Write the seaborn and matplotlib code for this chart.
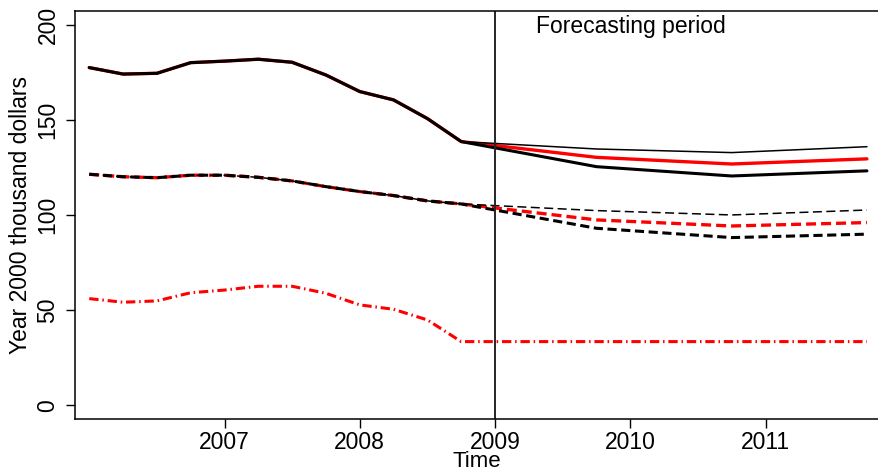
import matplotlib
matplotlib.use("Agg")
import matplotlib.pyplot as plt
import seaborn as sns
import numpy as np

# Quarterly history, 2006Q1 - 2008Q4
t_hist = [2006.0, 2006.25, 2006.5, 2006.75, 2007.0, 2007.25,
          2007.5, 2007.75, 2008.0, 2008.25, 2008.5, 2008.75]
price_hist = [177.6, 174.2, 174.6, 180.2, 181.0, 182.0,
              180.4, 173.7, 165.0, 160.6, 150.8, 138.7]
mid_hist = [121.5, 120.2, 119.7, 121.0, 121.0, 119.9,
            118.0, 115.0, 112.4, 110.3, 107.5, 105.9]
low_hist = [56.1, 54.2, 54.9, 59.2, 60.6, 62.6,
            62.6, 58.9, 52.8, 50.5, 44.9, 33.5]

# Annual forecasts starting from the last observed quarter
t_fc = [2008.75, 2009.75, 2010.75, 2011.75]
price_fc_high = [138.7, 134.8, 132.9, 136.0]
price_fc_base = [138.7, 130.4, 126.9, 129.6]
price_fc_low = [138.7, 125.5, 120.6, 123.3]
mid_fc_high = [105.9, 102.4, 100.1, 102.7]
mid_fc_base = [105.9, 97.5, 94.3, 96.1]
mid_fc_low = [105.9, 93.1, 88.2, 90.0]
low_fc = [33.5, 33.5, 33.5, 33.5]

x_ticks = [2007, 2008, 2009, 2010, 2011]
y_ticks = [0, 50, 100, 150, 200]
forecast_start = 2009

sns.set_theme(style="white")
plt.rcParams["font.family"] = ["Liberation Sans", "DejaVu Sans"]

W, H = 879, 474
fig = plt.figure(figsize=(W / 100, H / 100), dpi=100)
ax_l, ax_r, ax_t, ax_b = 74.7, 879.0, 11.3, 418.5
ax = fig.add_axes([ax_l / W, 1 - ax_b / H, (ax_r - ax_l) / W, (ax_b - ax_t) / H])

t_all = t_hist + t_fc[1:]

def full(hist, fc):
    return hist + fc[1:]

thick = 2.2
thin = 1.1
dash_thick = (0, (3.0, 1.5))
dash_thin = (0, (5.9, 2.9))
dashdot = (0, (3.05, 1.25, 0.5, 1.25))

# Solid: price level scenarios
sns.lineplot(x=t_all, y=full(price_hist, price_fc_base), ax=ax, color="#ff0000",
             linewidth=2.4, errorbar=None)
sns.lineplot(x=t_all, y=full(price_hist, price_fc_low), ax=ax, color="black",
             linewidth=thick, errorbar=None)
sns.lineplot(x=t_all, y=full(price_hist, price_fc_high), ax=ax, color="black",
             linewidth=thin, errorbar=None)

# Dashed: middle series scenarios
sns.lineplot(x=t_all, y=full(mid_hist, mid_fc_base), ax=ax, color="#ff0000",
             linewidth=2.4, linestyle=dash_thick, errorbar=None)
sns.lineplot(x=t_all, y=full(mid_hist, mid_fc_low), ax=ax, color="black",
             linewidth=thick, linestyle=dash_thick, errorbar=None)
sns.lineplot(x=t_all, y=full(mid_hist, mid_fc_high), ax=ax, color="black",
             linewidth=thin, linestyle=dash_thin, errorbar=None)

# Dash-dot: lower series, held flat over the forecast
sns.lineplot(x=t_all, y=full(low_hist, low_fc), ax=ax, color="#ff0000",
             linewidth=thick, linestyle=dashdot, errorbar=None)

ax.axvline(forecast_start, color="#262626", linewidth=1.4)
ax.text(2009.30, 195.6, "Forecasting period", fontsize=16.5, ha="left",
        va="baseline", color="black")

ax.set_xlim(2007 + (ax_l - 224.5) / 135.25, 2007 + (ax_r - 224.5) / 135.25)
ax.set_ylim((405.3 - ax_b) / 1.9015, (405.3 - ax_t) / 1.9015)
ax.set_xticks(x_ticks)
ax.set_xticklabels([str(v) for v in x_ticks])
ax.set_yticks(y_ticks)
ax.set_yticklabels([str(v) for v in y_ticks], rotation=90, va="center")

ax.tick_params(axis="both", which="major", direction="out", length=6.5, width=1.0,
               color="black", labelsize=16.5, labelcolor="black")
ax.tick_params(axis="x", pad=2.5, bottom=True)
ax.tick_params(axis="y", pad=4.5, left=True)

for side in ["left", "bottom", "top"]:
    ax.spines[side].set_visible(True)
    ax.spines[side].set_color("black")
    ax.spines[side].set_linewidth(1.1)
ax.spines["right"].set_visible(False)

ax.set_xlabel("Time", fontsize=16, labelpad=-2.5, color="black")
ax.set_ylabel("Year 2000 thousand dollars", fontsize=16.5, labelpad=3, color="black")

fig.savefig("out.png", dpi=100)
